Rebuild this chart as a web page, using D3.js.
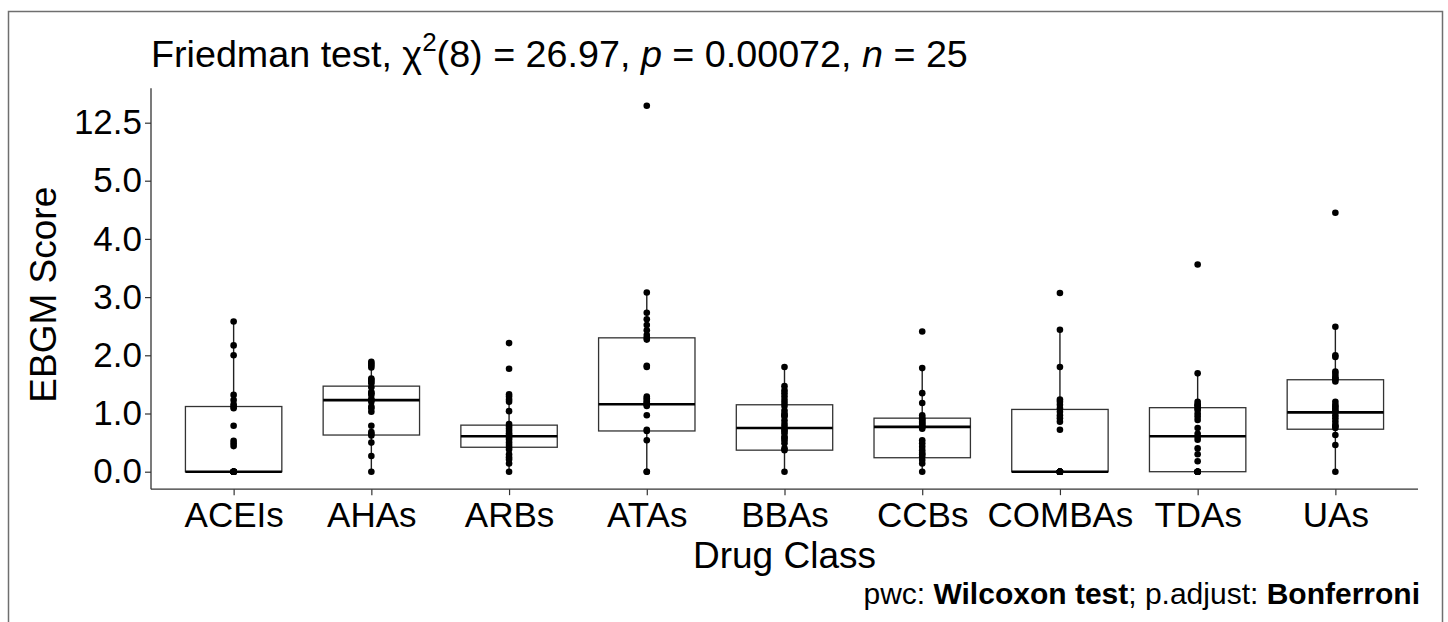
<!DOCTYPE html>
<html>
<head>
<meta charset="utf-8">
<script src="https://cdn.jsdelivr.net/npm/d3@7"></script>
<style>
  body { margin: 0; background: #fff; }
  text { font-family: "Liberation Sans", Arial, sans-serif; fill: #000; }
</style>
</head>
<body>
<div id="chart"></div>
<script>
// Drug classes on the x axis
const categories = ['ACEIs', 'AHAs', 'ARBs', 'ATAs', 'BBAs', 'CCBs', 'COMBAs', 'TDAs', 'UAs'];

// Box statistics
const q1Values = [0, 0.63, 0.42, 0.70, 0.37, 0.24, 0, 0, 0.73];
const medianValues = [0, 1.23, 0.61, 1.16, 0.75, 0.77, 0, 0.61, 1.02];
const q3Values = [1.12, 1.47, 0.80, 2.30, 1.15, 0.92, 1.07, 1.10, 1.58];
const whiskerLow = [0, 0, 0, 0, 0, 0, 0, 0, 0];
const whiskerHigh = [2.58, 1.89, 1.33, 3.08, 1.80, 1.78, 2.44, 1.69, 2.49];

// EBGM scores, 25 per class
const aceisPoints = [0, 0, 0, 0, 0, 0, 0, 0, 0, 0, 0, 0, 0, 0.44, 0.49, 0.53, 0.79, 1.09, 1.12, 1.16, 1.23, 1.32, 2.0, 2.17, 2.58];
const ahasPoints = [0, 0.27, 0.5, 0.62, 0.65, 0.68, 0.79, 1.03, 1.09, 1.12, 1.20, 1.23, 1.25, 1.32, 1.35, 1.37, 1.45, 1.52, 1.55, 1.58, 1.60, 1.79, 1.83, 1.86, 1.89];
const arbsPoints = [0, 0.14, 0.21, 0.25, 0.30, 0.38, 0.42, 0.46, 0.50, 0.55, 0.58, 0.61, 0.63, 0.66, 0.70, 0.74, 0.78, 0.82, 1.04, 1.20, 1.24, 1.29, 1.33, 1.77, 2.21];
const atasPoints = [0, 0, 0.54, 0.70, 0.72, 0.97, 1.13, 1.15, 1.16, 1.18, 1.20, 1.23, 1.26, 1.29, 1.80, 1.82, 2.27, 2.30, 2.35, 2.43, 2.52, 2.62, 2.73, 3.08, 14.7];
const bbasPoints = [0, 0.37, 0.40, 0.49, 0.54, 0.58, 0.60, 0.66, 0.70, 0.72, 0.77, 0.82, 0.88, 0.95, 0.97, 1.0, 1.05, 1.13, 1.18, 1.23, 1.29, 1.35, 1.40, 1.47, 1.80];
const ccbsPoints = [0, 0.14, 0.20, 0.26, 0.30, 0.32, 0.37, 0.43, 0.49, 0.54, 0.74, 0.76, 0.78, 0.80, 0.82, 0.84, 0.86, 0.89, 0.90, 0.93, 0.97, 1.18, 1.35, 1.78, 2.41];
const combasPoints = [0, 0, 0, 0, 0, 0, 0, 0, 0, 0, 0, 0, 0, 0.72, 0.86, 0.92, 0.97, 1.03, 1.09, 1.15, 1.20, 1.24, 1.80, 2.44, 3.07];
const tdasPoints = [0, 0, 0, 0, 0, 0, 0, 0.18, 0.30, 0.40, 0.55, 0.60, 0.65, 0.75, 0.89, 0.95, 1.0, 1.06, 1.08, 1.12, 1.14, 1.16, 1.20, 1.69, 3.56];
const uasPoints = [0, 0.46, 0.63, 0.75, 0.78, 0.80, 0.86, 0.92, 0.97, 1.03, 1.05, 1.09, 1.12, 1.15, 1.2, 1.55, 1.59, 1.60, 1.63, 1.68, 1.72, 1.97, 2.0, 2.49, 4.45];

// Y axis ticks (axis is compressed above 5)
const yTicks = [0, 1, 2, 3, 4, 5, 12.5];

const groupPoints = [aceisPoints, ahasPoints, arbsPoints, atasPoints, bbasPoints, ccbsPoints, combasPoints, tdasPoints, uasPoints];
const boxes = categories.map((c, i) => ({
  category: c,
  q1: q1Values[i], median: medianValues[i], q3: q3Values[i],
  low: whiskerLow[i], high: whiskerHigh[i],
  points: groupPoints[i]
}));

const width = 1448;
const height = 622;
const plotLeft = 151;
const plotRight = 1418;

const svg = d3.select('#chart')
  .append('svg')
    .attr('width', width)
    .attr('height', height);

// Outer frame of the figure
svg.append('rect')
    .attr('x', 8.5)
    .attr('y', 11.5)
    .attr('width', 1434)
    .attr('height', 700)
    .attr('fill', 'none')
    .attr('stroke', '#6f6f6f')
    .attr('stroke-width', 1.5);

// Scales
const x = d3.scalePoint()
    .domain(categories)
    .range([plotLeft, plotRight])
    .padding(0.6);
const boxWidth = x.step() * 0.7;

// piecewise linear: 0..5 evenly spaced, 5..12.5 squeezed into one step
const y = d3.scaleLinear()
    .domain([0, 5, 12.5])
    .range([471.7, 180.7, 122.7]);
const yBottom = y(-0.3);
const yTop = y(16.95);

// Boxes
const boxGroup = svg.selectAll('.box-group')
  .data(boxes)
  .join('g')
    .attr('class', 'box-group');

boxGroup.append('line')
    .attr('x1', d => x(d.category))
    .attr('x2', d => x(d.category))
    .attr('y1', d => y(d.q3))
    .attr('y2', d => y(d.high))
    .attr('stroke', '#222')
    .attr('stroke-width', 1.4);

boxGroup.append('line')
    .attr('x1', d => x(d.category))
    .attr('x2', d => x(d.category))
    .attr('y1', d => y(d.q1))
    .attr('y2', d => y(d.low))
    .attr('stroke', '#222')
    .attr('stroke-width', 1.4);

boxGroup.append('rect')
    .attr('x', d => x(d.category) - boxWidth / 2)
    .attr('y', d => y(d.q3))
    .attr('width', boxWidth)
    .attr('height', d => y(d.q1) - y(d.q3))
    .attr('fill', '#fff')
    .attr('stroke', '#333')
    .attr('stroke-width', 1.3);

boxGroup.append('line')
    .attr('x1', d => x(d.category) - boxWidth / 2)
    .attr('x2', d => x(d.category) + boxWidth / 2)
    .attr('y1', d => y(d.median))
    .attr('y2', d => y(d.median))
    .attr('stroke', '#000')
    .attr('stroke-width', 2.6);

// Points on top of the boxes
boxGroup.selectAll('circle')
  .data(d => d.points.map(v => ({ category: d.category, value: v })))
  .join('circle')
    .attr('cx', d => x(d.category))
    .attr('cy', d => y(d.value))
    .attr('r', 3.3)
    .attr('fill', '#000');

// Y axis
const yAxis = svg.append('g')
    .attr('transform', `translate(${plotLeft},0)`)
    .call(d3.axisLeft(y).tickValues(yTicks).tickFormat(d3.format('.1f')).tickSize(6).tickPadding(3));
yAxis.select('.domain').remove();
yAxis.selectAll('.tick line').attr('stroke', '#333').attr('stroke-width', 1.2);
yAxis.selectAll('.tick text').attr('font-size', 35).attr('fill', '#000');
yAxis.append('line')
    .attr('y1', yTop)
    .attr('y2', yBottom)
    .attr('stroke', '#333')
    .attr('stroke-width', 1.3);

// X axis
const xAxis = svg.append('g')
    .attr('transform', `translate(0,${yBottom})`)
    .call(d3.axisBottom(x).tickSize(6).tickPadding(7));
xAxis.select('.domain').remove();
xAxis.selectAll('.tick line').attr('stroke', '#333').attr('stroke-width', 1.2);
xAxis.selectAll('.tick text').attr('font-size', 35).attr('fill', '#000');
xAxis.append('line')
    .attr('x1', plotLeft)
    .attr('x2', plotRight)
    .attr('stroke', '#333')
    .attr('stroke-width', 1.3);

// Axis titles
svg.append('text')
    .attr('x', (plotLeft + plotRight) / 2)
    .attr('y', 568)
    .attr('text-anchor', 'middle')
    .attr('font-size', 37)
    .text('Drug Class');

svg.append('text')
    .attr('transform', `translate(56,${(yTop + yBottom) / 2 + 6}) rotate(-90)`)
    .attr('text-anchor', 'middle')
    .attr('font-size', 37)
    .text('EBGM Score');

// Title with chi-square superscript
const title = svg.append('text')
    .attr('x', plotLeft)
    .attr('y', 67)
    .attr('font-size', 37.7);
title.append('tspan').text('Friedman test, ');
title.append('tspan').text('χ');
title.append('tspan').attr('dy', -16).attr('font-size', 26).text('2');
title.append('tspan').attr('dy', 16).text('(8) = 26.97, ');
title.append('tspan').attr('font-style', 'italic').text('p');
title.append('tspan').text(' = 0.00072, ');
title.append('tspan').attr('font-style', 'italic').text('n');
title.append('tspan').text(' = 25');

// Caption
const caption = svg.append('text')
    .attr('x', plotRight + 2)
    .attr('y', 604)
    .attr('text-anchor', 'end')
    .attr('font-size', 30);
caption.append('tspan').text('pwc: ');
caption.append('tspan').attr('font-weight', 'bold').text('Wilcoxon test');
caption.append('tspan').text('; p.adjust: ');
caption.append('tspan').attr('font-weight', 'bold').text('Bonferroni');
</script>
</body>
</html>
